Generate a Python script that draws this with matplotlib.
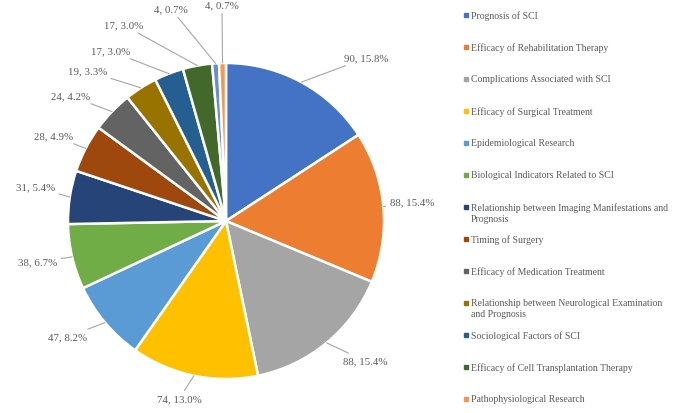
import matplotlib.pyplot as plt
import numpy as np
from matplotlib.patches import Rectangle

topics = ['Prognosis of SCI', 'Efficacy of Rehabilitation Therapy',
          'Complications Associated with SCI', 'Efficacy of Surgical Treatment',
          'Epidemiological Research', 'Biological Indicators Related to SCI',
          'Relationship between Imaging Manifestations and\nPrognosis',
          'Timing of Surgery', 'Efficacy of Medication Treatment',
          'Relationship between Neurological Examination\nand Prognosis',
          'Sociological Factors of SCI', 'Efficacy of Cell Transplantation Therapy',
          'Pathophysiological Research']
counts = [90, 88, 88, 74, 47, 38, 31, 28, 24, 19, 17, 17, 4, 4]
pcts = [15.8, 15.4, 15.4, 13.0, 8.2, 6.7, 5.4, 4.9, 4.2, 3.3, 3.0, 3.0, 0.7, 0.7]
colors = ['#4472C4', '#ED7D31', '#A5A5A5', '#FFC000', '#5B9BD5', '#70AD47',
          '#264478', '#9E480E', '#636363', '#997300', '#255E91', '#43682B',
          '#698ED0', '#F1975A']
legend_colors = colors[:12] + ['#F1975A']

# label anchor (pixels, y from top) and alignment
lab_pos = [(344, 59, 'left'), (390, 203, 'left'), (343, 362, 'left'),
           (179, 400, 'center'), (87, 338, 'right'), (57, 263, 'right'),
           (55, 188, 'right'), (73, 137, 'right'), (90, 97, 'right'),
           (107, 72, 'right'), (130, 52, 'right'), (143, 26, 'right'),
           (188, 10, 'right'), (222, 6, 'center')]

W, H = 680, 414
cx, cy, rad = 226, H - 222, 158
txtc = '#595959'
plt.rcParams['font.family'] = ['Liberation Serif', 'DejaVu Serif']

fig = plt.figure(figsize=(6.8, 4.14), dpi=100)
ax = fig.add_axes([0, 0, 1, 1])

wedges, _ = ax.pie(counts, colors=colors, startangle=90, counterclock=False,
                   center=(cx, cy), radius=rad,
                   wedgeprops=dict(edgecolor='white', linewidth=1.8))
ax.set_xlim(0, W)
ax.set_ylim(0, H)
ax.set_aspect('equal')
ax.axis('off')

for w, n, p, (lx, ly, ha) in zip(wedges, counts, pcts, lab_pos):
    a = np.deg2rad((w.theta1 + w.theta2) / 2)
    ex, ey = cx + rad * np.cos(a), cy + rad * np.sin(a)
    ax.annotate(f'{n}, {p:.1f}%', xy=(ex, ey), xytext=(lx, H - ly),
                ha=ha, va='center', fontsize=7.8, color=txtc,
                arrowprops=dict(arrowstyle='-', color='#A6A6A6', lw=0.8,
                                shrinkA=1, shrinkB=0))

# legend drawn by hand to keep Excel spacing
for i, (name, c) in enumerate(zip(topics, legend_colors)):
    y = H - (16 + 32 * i)
    ax.add_patch(Rectangle((464, y - 2), 4, 4, color=c))
    if '\n' in name:
        ax.text(471, y + 5, name, ha='left', va='top', fontsize=7,
                color=txtc, linespacing=1.35)
    else:
        ax.text(471, y, name, ha='left', va='center', fontsize=7, color=txtc)

fig.savefig('out.png', dpi=100)
